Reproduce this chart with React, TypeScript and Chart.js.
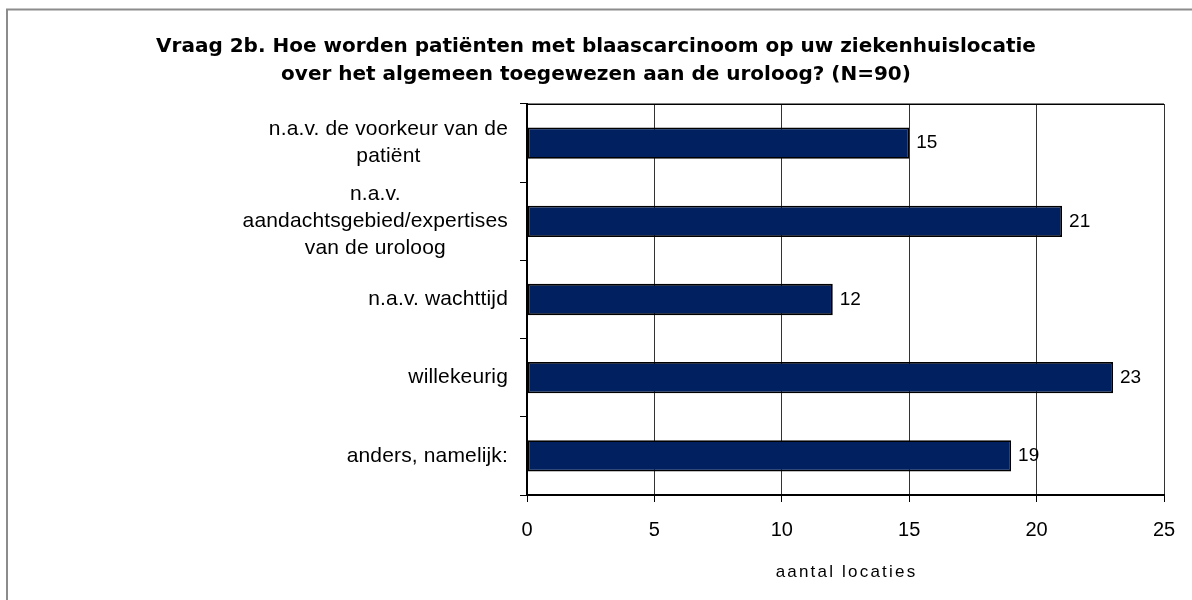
import React, { useEffect, useRef } from "react";
import { Chart, registerables } from "chart.js";

Chart.register(...registerables);

const TITLE_LINES = [
  "Vraag 2b. Hoe worden patiënten met blaascarcinoom op uw ziekenhuislocatie",
  "over het algemeen toegewezen aan de uroloog? (N=90)",
];
const CATEGORIES: string[][] = [
  ["n.a.v. de voorkeur van de", "patiënt"],
  ["n.a.v.", "aandachtsgebied/expertises", "van de uroloog"],
  ["n.a.v. wachttijd"],
  ["willekeurig"],
  ["anders, namelijk:"],
];
const VALUES = [15, 21, 12, 23, 19];
const X_TICKS = [0, 5, 10, 15, 20, 25];
const X_TITLE = "aantal locaties";

const BAR_COLOR = "#002060";

const customPlugin = {
  id: "customDraw",
  beforeDraw(chart: any) {
    const ctx = chart.ctx;
    ctx.save();
    ctx.strokeStyle = "#8c8c8c";
    ctx.lineWidth = 2;
    ctx.strokeRect(7, 9.5, 1400, 800);
    ctx.restore();
  },
  afterDraw(chart: any) {
    const { ctx, chartArea } = chart;
    const yScale = chart.scales.y;
    ctx.save();
    // top border of plot
    ctx.strokeStyle = "#000";
    ctx.lineWidth = 1.5;
    ctx.beginPath();
    ctx.moveTo(chartArea.left, chartArea.top + 0.25);
    ctx.lineTo(chartArea.right, chartArea.top + 0.25);
    ctx.stroke();

    // category labels: block right-aligned, lines centred within block
    ctx.font = '21px "Liberation Sans"';
    (ctx as any).letterSpacing = "0.15px";
    ctx.fillStyle = "#000";
    ctx.textBaseline = "middle";
    ctx.textAlign = "center";
    const rightEdge = chartArea.left - 19;
    const lh = 27;
    const labels = chart.data.labels as string[][];
    labels.forEach((lines, i) => {
      const cy = yScale.getPixelForValue(i);
      const w = Math.max(...lines.map((l) => ctx.measureText(l).width));
      const cx = rightEdge - w / 2;
      lines.forEach((l, j) => {
        ctx.fillText(l, cx, cy + (j - (lines.length - 1) / 2) * lh);
      });
    });

    // data labels
    ctx.font = '19px "Liberation Sans"';
    (ctx as any).letterSpacing = "0px";
    ctx.textAlign = "left";
    const meta = chart.getDatasetMeta(0);
    const data = chart.data.datasets[0].data as number[];
    meta.data.forEach((bar: any, i: number) => {
      ctx.fillText(String(data[i]), bar.x + 7, bar.y);
    });

    // x axis title
    ctx.font = '17px "Liberation Sans"';
    (ctx as any).letterSpacing = "2.2px";
    ctx.textAlign = "center";
    ctx.textBaseline = "alphabetic";
    ctx.fillText(X_TITLE, (chartArea.left + chartArea.right) / 2 + 1, 577);
    ctx.restore();
  },
};

export default function App() {
  const canvasRef = useRef<HTMLCanvasElement | null>(null);

  useEffect(() => {
    if (!canvasRef.current) return;
    const chart = new Chart(canvasRef.current, {
      type: "bar",
      data: {
        labels: CATEGORIES,
        datasets: [
          {
            data: VALUES,
            backgroundColor: BAR_COLOR,
            borderColor: "#000",
            borderWidth: 1.8,
            borderSkipped: false,
            barPercentage: 0.4,
            categoryPercentage: 1,
          },
        ],
      },
      options: {
        indexAxis: "y",
        animation: false,
        responsive: false,
        devicePixelRatio: 1,
        layout: { padding: 0 },
        plugins: {
          legend: { display: false },
          tooltip: { enabled: false },
          title: {
            display: true,
            text: TITLE_LINES,
            color: "#000",
            font: { family: '"DejaVu Sans"', size: 20, weight: "bold", lineHeight: 1.4 },
            padding: { top: 33, bottom: 15 },
          },
        },
        scales: {
          x: {
            type: "linear",
            position: "bottom",
            min: X_TICKS[0],
            max: X_TICKS[X_TICKS.length - 1],
            ticks: {
              stepSize: X_TICKS[1] - X_TICKS[0],
              color: "#000",
              font: { family: '"Liberation Sans"', size: 20 },
              padding: 16,
              maxRotation: 0,
            },
            grid: {
              color: "#333",
              lineWidth: 1,
              drawTicks: true,
              tickLength: 7,
              tickColor: "#000",
            },
            border: { display: true, color: "#000", width: 2 },
            afterFit: (s: any) => {
              s.height = 105;
            },
          },
          y: {
            type: "category",
            position: "left",
            ticks: { display: false },
            grid: {
              drawOnChartArea: false,
              drawTicks: true,
              tickLength: 7,
              tickColor: "#000",
              lineWidth: 1,
            },
            border: { display: true, color: "#000", width: 2 },
            afterFit: (s: any) => {
              s.width = 527;
            },
          },
          yRight: {
            type: "linear",
            position: "right",
            display: true,
            ticks: { display: false },
            grid: { display: false },
            border: { display: false },
            afterFit: (s: any) => {
              s.width = 28;
            },
          },
        },
      } as any,
      plugins: [customPlugin],
    });
    return () => chart.destroy();
  }, []);

  return (
    <div style={{ position: "absolute", left: 0, top: 0, width: 1192, height: 600, overflow: "hidden", background: "#fff" }}>
      <canvas ref={canvasRef} width={1192} height={600} style={{ width: 1192, height: 600, display: "block" }} />
    </div>
  );
}
